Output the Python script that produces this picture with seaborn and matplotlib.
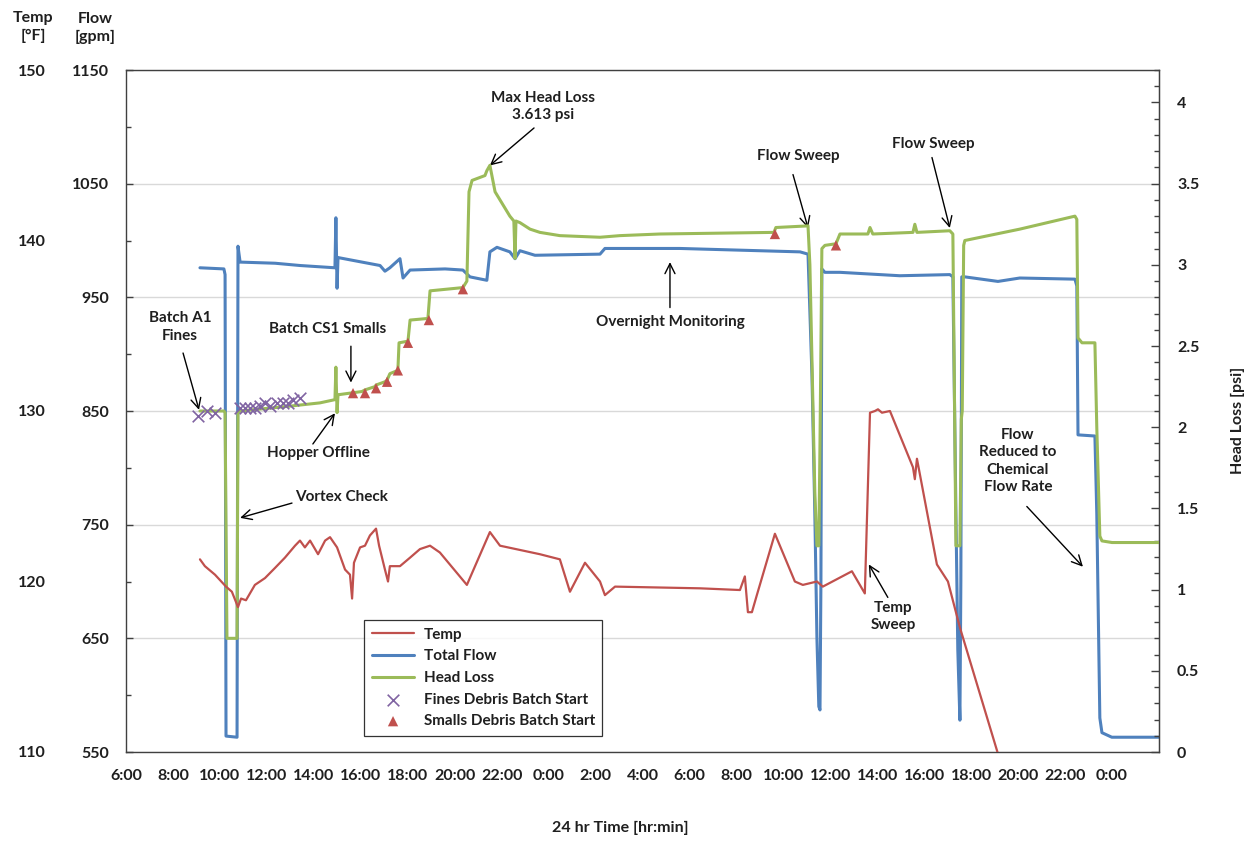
import matplotlib
matplotlib.use('Agg')
import matplotlib.pyplot as plt
import seaborn as sns
from matplotlib.ticker import MultipleLocator, FuncFormatter

# time axis: hours after 6:00 on day 1
flow_t = [3.15, 4.17, 4.22, 4.26, 4.73, 4.77, 4.86, 6.35, 7.41, 8.90, 8.94, 8.99, 9.03, 9.54,
          10.82, 11.03, 11.24, 11.67, 11.80, 12.10, 13.59, 14.35, 14.65, 15.37, 15.50, 15.80,
          16.35, 16.57, 16.78, 17.42, 20.19, 20.40, 23.59, 28.71, 29.05, 29.22, 29.34, 29.43,
          29.51, 29.56, 29.60, 29.64, 29.77, 30.41, 32.96, 35.09, 35.22, 35.35, 35.43, 35.52,
          35.56, 35.60, 35.73, 37.14, 38.07, 40.42, 40.50, 40.55, 41.27, 41.35, 41.48, 41.57,
          41.99, 44.0]
flow_gpm = [976, 975, 970, 564, 563, 995, 981, 980, 978, 976, 1020, 958, 985, 983,
            978, 973, 976, 984, 967, 974, 975, 974, 968, 965, 990, 994,
            990, 984, 991, 987, 988, 993, 993, 990, 988, 880, 760, 650,
            590, 587, 700, 975, 972, 972, 969, 970, 968, 760, 640, 578,
            700, 968, 968, 964, 967, 966, 960, 829, 828, 760, 580, 567,
            563, 563]

hl_t = [3.15, 4.17, 4.22, 4.30, 4.73, 4.77, 4.86, 6.98, 8.26, 8.90, 8.94, 8.99, 9.03, 9.54,
        10.05, 10.18, 10.60, 10.65, 11.03, 11.12, 11.24, 11.58, 11.63, 12.01, 12.10, 12.86,
        12.95, 14.35, 14.52, 14.61, 14.74, 15.29, 15.37, 15.50, 15.72, 16.35, 16.52, 16.57,
        16.61, 16.78, 17.21, 17.63, 18.48, 20.19, 21.04, 22.74, 27.60, 27.68, 29.05, 29.13,
        29.34, 29.43, 29.51, 29.56, 29.64, 29.77, 30.24, 30.41, 31.60, 31.69, 31.81, 33.52,
        33.60, 33.69, 35.09, 35.22, 35.35, 35.52, 35.58, 35.62, 35.68, 35.73, 38.07, 40.42,
        40.50, 40.55, 40.72, 41.27, 41.35, 41.48, 41.57, 42.0, 44.0]
hl_psi = [2.10, 2.10, 2.09, 0.70, 0.70, 2.09, 2.10, 2.13, 2.15, 2.17, 2.37, 2.09, 2.20, 2.21,
          2.22, 2.23, 2.25, 2.26, 2.28, 2.29, 2.33, 2.35, 2.52, 2.53, 2.66, 2.67,
          2.84, 2.86, 2.90, 3.45, 3.52, 3.55, 3.58, 3.613, 3.45, 3.30, 3.27, 3.04,
          3.27, 3.26, 3.22, 3.20, 3.18, 3.17, 3.18, 3.19, 3.20, 3.23, 3.24, 3.00,
          1.60, 1.27, 1.27, 1.90, 3.10, 3.12, 3.13, 3.19, 3.19, 3.23, 3.19, 3.20,
          3.25, 3.20, 3.21, 3.19, 1.27, 1.27, 2.05, 2.10, 3.12, 3.15, 3.22, 3.30,
          3.28, 2.55, 2.52, 2.52, 2.00, 1.33, 1.30, 1.29, 1.29]

temp_t = [3.15, 3.36, 3.79, 4.26, 4.51, 4.77, 4.90, 5.11, 5.49, 5.92, 6.35, 6.77, 7.20, 7.41,
          7.62, 7.84, 8.18, 8.48, 8.69, 8.99, 9.33, 9.54, 9.63, 9.71, 9.97, 10.18, 10.39,
          10.65, 10.78, 11.03, 11.16, 11.24, 11.67, 12.10, 12.52, 12.95, 13.37, 14.52, 15.50,
          15.93, 17.63, 18.48, 18.91, 19.55, 20.19, 20.40, 20.83, 24.45, 26.15, 26.36, 26.49,
          26.66, 26.87, 27.64, 28.49, 28.83, 29.43, 29.68, 30.92, 31.47, 31.69, 31.90, 32.03,
          32.20, 32.54, 33.52, 33.60, 33.69, 34.54, 35.01, 35.52, 37.14]
temp_f = [121.3, 120.9, 120.4, 119.7, 119.4, 118.5, 119.0, 118.9, 119.8, 120.2, 120.8, 121.4,
          122.1, 122.4, 122.0, 122.4, 121.6, 122.4, 122.6, 122.0, 120.7, 120.4, 119.0, 121.1,
          122.0, 122.1, 122.7, 123.1, 122.1, 120.7, 120.0, 120.9, 120.9, 121.4, 121.9, 122.1,
          121.7, 119.8, 122.9, 122.1, 121.6, 121.3, 119.4, 121.1, 120.0, 119.2, 119.7, 119.6,
          119.5, 120.3, 118.2, 118.2, 119.2, 122.8, 120.0, 119.8, 120.0, 119.7, 120.6, 119.3,
          129.9, 130.0, 130.1, 129.9, 130.0, 126.7, 126.0, 127.2, 121.0, 120.0, 117.3, 109.9]

fines_t = [3.07, 3.45, 3.79, 4.86, 5.07, 5.28, 5.49, 5.71, 5.92, 6.13, 6.43, 6.69, 6.90, 7.11, 7.41]
fines_psi = [2.07, 2.10, 2.09, 2.12, 2.12, 2.12, 2.12, 2.13, 2.15, 2.13, 2.15, 2.15, 2.15, 2.17, 2.18]

smalls_t = [9.67, 10.18, 10.65, 11.12, 11.58, 12.01, 12.90, 14.35, 27.64, 30.24]
smalls_psi = [2.21, 2.21, 2.24, 2.28, 2.35, 2.52, 2.66, 2.85, 3.19, 3.12]

legend_labels = ['Temp', 'Total Flow', 'Head Loss', 'Fines Debris Batch Start', 'Smalls Debris Batch Start']
flow_ticks = [550, 650, 750, 850, 950, 1050, 1150]
temp_ticks = [110, 120, 130, 140, 150]
time_ticks = list(range(0, 43, 2))

RED = '#C0504D'
BLUE = '#4F81BD'
GREEN = '#9BBB59'
PURPLE = '#8064A2'
TXT = '#1f1f1f'

sns.set_style('white')
plt.rcParams['font.family'] = ['Lato', 'DejaVu Sans']
plt.rcParams['font.weight'] = 'bold'
plt.rcParams['font.size'] = 11
plt.rcParams['text.color'] = TXT

fig = plt.figure(figsize=(12.51, 8.41), dpi=100)
ax = fig.add_axes([126/1251, 1-752/841, (1159-126)/1251, (752-70)/841])
ax_hl = ax.twinx()
ax_t = ax.twinx()

sns.lineplot(x=flow_t, y=flow_gpm, ax=ax, color=BLUE, lw=2.2, sort=False, estimator=None)
sns.lineplot(x=hl_t, y=hl_psi, ax=ax_hl, color=GREEN, lw=2.2, sort=False, estimator=None)
sns.scatterplot(x=fines_t, y=fines_psi, ax=ax_hl, marker='x', color=PURPLE, s=70, linewidth=1.2, zorder=5)
sns.scatterplot(x=smalls_t, y=smalls_psi, ax=ax_hl, marker='^', color=RED, s=55, edgecolor='none', zorder=5)
sns.lineplot(x=temp_t, y=temp_f, ax=ax_t, color=RED, lw=1.6, sort=False, estimator=None)

# axes limits and ticks
ax.set_xlim(0, 44)
ax.set_ylim(550, 1150)
ax_hl.set_ylim(0, 4.2)
ax_t.set_ylim(110, 150)

ax.set_xticks(time_ticks)
ax.xaxis.set_major_formatter(FuncFormatter(lambda v, p: f"{int((6 + v) % 24)}:00"))
ax.tick_params(axis='x', direction='out', length=5, width=1, color='#404040', pad=7,
               labelsize=11.5, labelcolor=TXT)

ax.set_yticks(flow_ticks)
ax.set_yticks([v + 50 for v in flow_ticks[:-1]], minor=True)
ax.tick_params(axis='y', which='major', direction='in', length=5, width=1, color='#404040',
               pad=12, labelsize=11.5, labelcolor=TXT)
ax.tick_params(axis='y', which='minor', direction='in', length=3.5, width=1, color='#404040')
ax.yaxis.grid(True, which='major', color='#d9d9d9', lw=1)
ax.set_axisbelow(True)

ax_hl.yaxis.set_major_locator(MultipleLocator(0.5))
ax_hl.yaxis.set_minor_locator(MultipleLocator(0.1))
ax_hl.yaxis.set_major_formatter(FuncFormatter(lambda v, p: f"{v:g}"))
ax_hl.tick_params(axis='y', which='major', direction='in', length=5.5, width=1, color='#404040',
                  pad=13, labelsize=11.5, labelcolor=TXT)
ax_hl.tick_params(axis='y', which='minor', direction='in', length=3.8, width=1, color='#404040')

ax_t.yaxis.set_ticks_position('left')
ax_t.set_yticks(temp_ticks)
ax_t.tick_params(axis='y', length=0, pad=58, labelsize=11.5, labelcolor=TXT)

for a in (ax, ax_hl, ax_t):
    a.set_xlabel('')
    a.set_ylabel('')
for s in ax.spines.values():
    s.set_visible(True)
    s.set_color('#404040')
    s.set_linewidth(1)
for s in list(ax_hl.spines.values()) + list(ax_t.spines.values()):
    s.set_visible(False)
ax_hl.spines['right'].set_visible(True)
ax_hl.spines['right'].set_color('#404040')

# annotations (text, then arrow tail -> head), positions in hours / gpm
arrow = dict(arrowstyle='->', color='black', lw=1, mutation_scale=18, shrinkA=0, shrinkB=0)
notes = [
    ('Batch A1\nFines', (2.30, 924), (2.43, 901), (3.11, 851)),
    ('Batch CS1 Smalls', (8.60, 922), (9.58, 907), (9.58, 875)),
    ('Hopper Offline', (8.18, 813), (7.96, 821), (8.90, 848)),
    ('Vortex Check', (9.20, 774), (7.07, 769), (4.86, 756)),
    ('Max Head Loss\n3.613 psi', (17.76, 1118), (17.38, 1099), (15.50, 1066)),
    ('Overnight Monitoring', (23.17, 928), (23.17, 941), (23.17, 981)),
    ('Flow Sweep', (28.62, 1074), (28.41, 1058), (29.05, 1011)),
    ('Flow Sweep', (34.37, 1085), (34.33, 1073), (35.09, 1011)),
    ('Temp\nSweep', (32.67, 669), (32.45, 686), (31.64, 715)),
    ('Flow\nReduced to\nChemical\nFlow Rate', (37.99, 806), (38.37, 766), (40.76, 713)),
]
for txt, pos, tail, head in notes:
    ax.text(pos[0], pos[1], txt, ha='center', va='center', fontsize=11,
            linespacing=1.3, color=TXT, transform=ax.transData, zorder=10)
    ax.annotate('', xy=head, xytext=tail, arrowprops=arrow, zorder=10)

# legend
handles = [ax_t.lines[0], ax.lines[0], ax_hl.lines[0], ax_hl.collections[0], ax_hl.collections[1]]
leg = ax_t.legend(handles, legend_labels, loc='upper left',
                  bbox_to_anchor=(364/1251, 1-620/841), bbox_transform=fig.transFigure,
                  frameon=True, fancybox=False, edgecolor='black', borderaxespad=0,
                  handlelength=2.8, handletextpad=0.6, labelspacing=0.5, borderpad=0.5,
                  fontsize=11)
leg.get_frame().set_linewidth(0.9)

# axis titles
fig.text(33/1251, 1-27/841, 'Temp\n[°F]', ha='center', va='center', fontsize=11.5, linespacing=1.4)
fig.text(95/1251, 1-28/841, 'Flow\n[gpm]', ha='center', va='center', fontsize=11.5, linespacing=1.4)
fig.text(620/1251, 1-828/841, '24 hr Time [hr:min]', ha='center', va='center', fontsize=11.5)
fig.text(1238/1251, 1-420/841, 'Head Loss [psi]', ha='center', va='center', fontsize=11.5, rotation=90)

fig.savefig('out.png', dpi=100)
